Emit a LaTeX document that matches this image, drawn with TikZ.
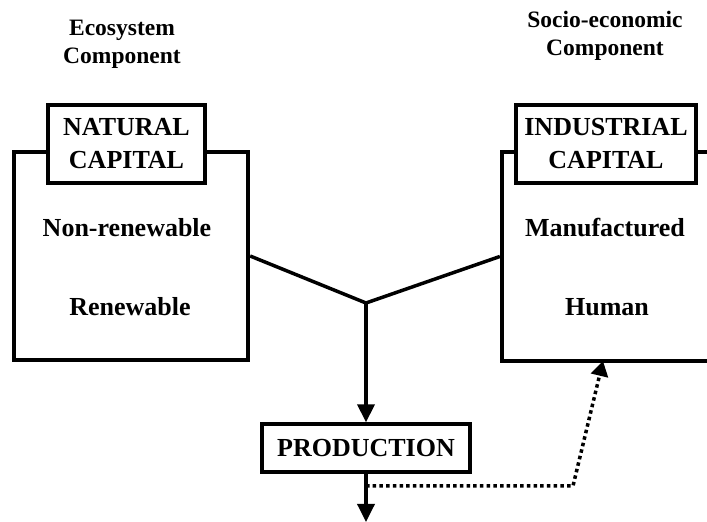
\documentclass[tikz,border=0pt]{standalone}
\usepackage{fontspec}
\setmainfont{Liberation Serif}
\usepackage{tikz}
\usetikzlibrary{arrows.meta}

\begin{document}
\begin{tikzpicture}[x=1pt,y=1pt,
		frame/.style={draw,line width=4.3pt,minimum width=#1},
		tag/.style={draw,fill=white,line width=4.3pt,align=center,inner sep=0pt,
			font=\fontsize{26}{33}\selectfont\bfseries},
		item/.style={font=\fontsize{26}{30}\selectfont\bfseries},
		head/.style={align=center,font=\fontsize{23.5}{28}\selectfont\bfseries},
		flow/.style={line width=3.5pt,-{Triangle[length=18pt,width=17pt]}}]
	\useasboundingbox (0,0) rectangle (707,522);
	
	% Define the two capital boxes
	\node[frame=234pt,minimum height=208pt] (natural) at (131,266) {};
	\node[frame=213pt,minimum height=209pt] (industrial) at (608.5,265.5) {};
	\node[tag,minimum width=157pt,minimum height=78pt] (natcap) at (126.5,378) {NATURAL\\CAPITAL};
	\node[tag,minimum width=180pt,minimum height=78pt] (indcap) at (606,378) {INDUSTRIAL\\CAPITAL};
	
	% Headings above the boxes
	\node[head] (eco) at (122,478) {Ecosystem\\Component};
	\node[head] (socio) at (605,486) {Socio-economic\\Component};
	
	% Kinds of capital
	\node[item] (nonren) at (127,294) {Non-renewable};
	\node[item] (ren) at (130,215) {Renewable};
	\node[item] (manu) at (605,294) {Manufactured};
	\node[item] (human) at (607,215) {Human};
	
	% Production box
	\node[draw,line width=3.3pt,minimum width=208pt,minimum height=48pt,item] (prod) at (366,74) {PRODUCTION};
	
	% Points for the connectors
	\coordinate (join) at (366,219);
	\coordinate (out) at (366,0);
	\coordinate (split) at (366,36);
	\coordinate (bend) at (573,36);
	\coordinate (back) at (603,161);
	
	% Draw the connectors
	\draw[line width=3.5pt] (natural.east) -- (join) -- (industrial.west);
	\draw[flow] (join) -- (prod.north);
	\draw[flow] (prod.south) -- (out);
	\draw[line width=3.5pt,dash pattern=on 3.5pt off 3.2pt,-{Triangle[length=15pt,width=17pt]}] (split) -- (bend) -- (back);
\end{tikzpicture}
\end{document}
